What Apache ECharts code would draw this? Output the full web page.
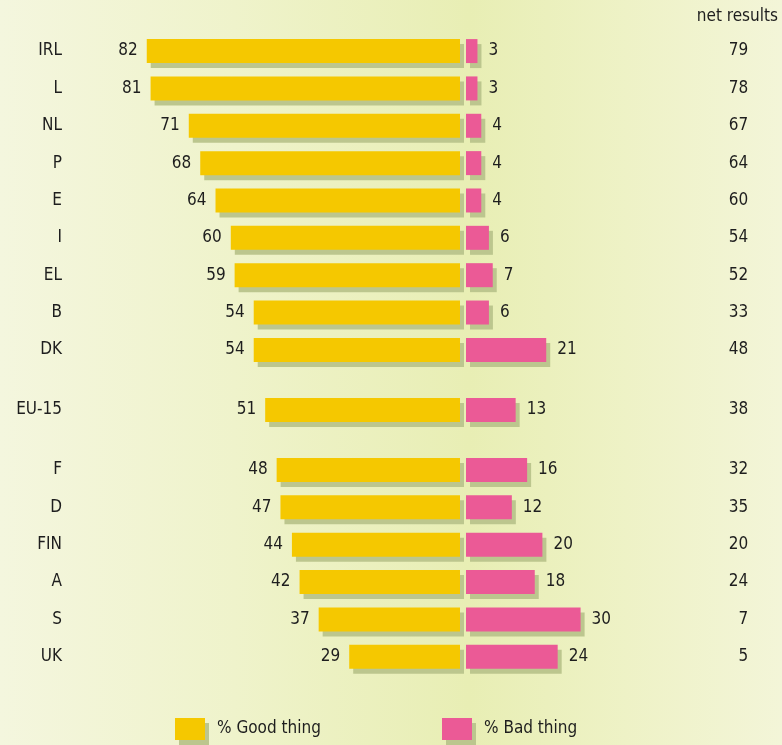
<!DOCTYPE html>
<html>
<head>
<meta charset="utf-8">
<script src="https://cdn.jsdelivr.net/npm/echarts@6/dist/echarts.min.js"></script>
<style>
  html, body { margin: 0; padding: 0; }
  #chart { width: 782px; height: 745px; }
</style>
</head>
<body>
<div id="chart"></div>
<script>
// data
const countries = ['IRL', 'L', 'NL', 'P', 'E', 'I', 'EL', 'B', 'DK', 'EU-15', 'F', 'D', 'FIN', 'A', 'S', 'UK'];
const goodShare = [82, 81, 71, 68, 64, 60, 59, 54, 54, 51, 48, 47, 44, 42, 37, 29];
const badShare = [3, 3, 4, 4, 4, 6, 7, 6, 21, 13, 16, 12, 20, 18, 30, 24];
const netResult = [79, 78, 67, 64, 60, 54, 52, 33, 48, 38, 32, 35, 20, 24, 7, 5];

// row blocks: member states, EU average, member states
const rowGroups = [[0, 9], [9, 10], [10, 16]];
const groupTops = [32.4, 391.4, 451.3];
const rowStep = 37.35;

const FONT = "'Liberation Sans Narrow', 'DejaVu Sans Condensed', sans-serif";
const TEXT = '#1e1e1e';
const YELLOW = '#f5c800';
const PINK = '#eb5a96';
const SHADOW = '#bcc68e';

const chart = echarts.init(document.getElementById('chart'));

const grid = [], xAxis = [], yAxis = [], series = [];

rowGroups.forEach(([a, b], g) => {
  const top = groupTops[g];
  const height = (b - a) * rowStep;
  const li = g * 2, ri = g * 2 + 1;

  // left half: good thing, grows to the left
  grid.push({ left: 78, width: 382, top: top, height: height });
  // right half: bad thing
  grid.push({ left: 466, width: 229.2, top: top, height: height });

  xAxis.push({ gridIndex: li, type: 'value', min: 0, max: 100, inverse: true, show: false });
  xAxis.push({ gridIndex: ri, type: 'value', min: 0, max: 60, show: false });

  yAxis.push({
    gridIndex: li, type: 'category', inverse: true,
    data: countries.slice(a, b),
    axisLine: { show: false }, axisTick: { show: false },
    axisLabel: { margin: 16, fontSize: 17, color: TEXT, fontFamily: FONT }
  });
  yAxis.push({
    gridIndex: ri, type: 'category', inverse: true, position: 'right',
    data: netResult.slice(a, b).map(String),
    axisLine: { show: false }, axisTick: { show: false },
    axisLabel: { margin: 53, align: 'right', fontSize: 17, color: TEXT, fontFamily: FONT }
  });

  series.push({
    name: '% Good thing', type: 'bar', xAxisIndex: li, yAxisIndex: li,
    data: goodShare.slice(a, b), barWidth: 24,
    itemStyle: { color: YELLOW, shadowColor: SHADOW, shadowBlur: 0, shadowOffsetX: 4, shadowOffsetY: 5 },
    label: { show: true, position: 'left', distance: 9, fontSize: 17, color: TEXT, fontFamily: FONT },
    emphasis: { disabled: true }
  });
  series.push({
    name: '% Bad thing', type: 'bar', xAxisIndex: ri, yAxisIndex: ri,
    data: badShare.slice(a, b), barWidth: 24,
    itemStyle: { color: PINK, shadowColor: SHADOW, shadowBlur: 0, shadowOffsetX: 4, shadowOffsetY: 5 },
    label: { show: true, position: 'right', distance: 11, fontSize: 17, color: TEXT, fontFamily: FONT },
    emphasis: { disabled: true }
  });
});

const legendBase = {
  top: 718, padding: 0, itemWidth: 30, itemHeight: 22, icon: 'rect',
  itemStyle: { shadowColor: SHADOW, shadowBlur: 0, shadowOffsetX: 4, shadowOffsetY: 5 },
  textStyle: { fontSize: 17, color: TEXT, fontFamily: FONT, padding: [0, 0, 0, 7] },
  selectedMode: false
};

const option = {
  animation: false,
  backgroundColor: '#f3f5da',
  graphic: [
    {
      type: 'rect', z: -10, silent: true,
      shape: { x: 0, y: 0, width: 782, height: 745 },
      style: {
        fill: new echarts.graphic.LinearGradient(0, 0, 1, 0, [
          { offset: 0, color: '#f4f6de' },
          { offset: 0.3, color: '#eff3cb' },
          { offset: 0.6, color: '#e8eeb4' },
          { offset: 0.8, color: '#eef2c6' },
          { offset: 1, color: '#f3f5d8' }
        ])
      }
    },
    {
      type: 'text', right: 4, top: 8,
      style: { text: 'net results', fontSize: 17, fill: TEXT, fontFamily: FONT }
    }
  ],
  legend: [
    Object.assign({ left: 175, data: ['% Good thing'] }, legendBase),
    Object.assign({ left: 442, data: ['% Bad thing'] }, legendBase)
  ],
  grid: grid,
  xAxis: xAxis,
  yAxis: yAxis,
  series: series
};

chart.setOption(option);
</script>
</body>
</html>
